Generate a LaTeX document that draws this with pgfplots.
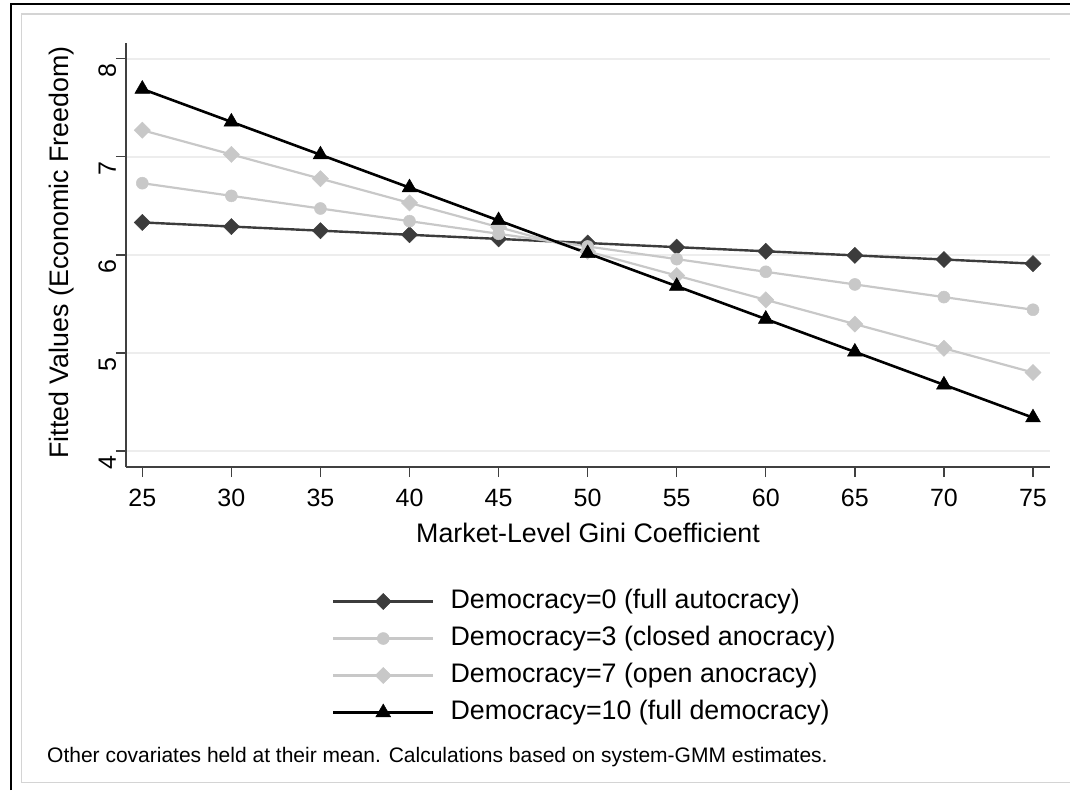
\documentclass[border=0pt]{standalone}
\usepackage{fontspec}
\setmainfont{Liberation Sans}
\usepackage{pgfplots}
\pgfplotsset{compat=1.18}
\definecolor{darkser}{HTML}{3C3C3C}
\definecolor{lightser}{HTML}{C8C8C8}
\definecolor{gridc}{HTML}{EDEDED}
\definecolor{axc}{HTML}{404040}
\definecolor{framec}{HTML}{D4D4D4}

\begin{document}
\begin{tikzpicture}[x=1pt,y=1pt]
\useasboundingbox (0,0) rectangle (1070,790);
% outer frame (black) and inner graph region (light gray)
\draw[line width=2pt] (11,0) -- (11,786) -- (1070,786);
\draw[framec, line width=1.5pt] (1070,776) -- (21.5,776) -- (21.5,7.5) -- (1070,7.5);

\begin{axis}[
  at={(126pt,323pt)}, anchor=south west,
  width=924pt, height=424pt, scale only axis,
  xmin=24.085, xmax=75.955, ymin=3.837, ymax=8.159,
  axis x line*=bottom, axis y line*=left,
  axis line style={-, draw=axc, line width=1.4pt},
  xtick={25,30,...,75}, ytick={4,5,6,7,8},
  tick align=outside, major tick length=10pt,
  tick style={axc, line width=1.4pt},
  ymajorgrids, grid style={gridc, line width=2pt},
  /pgf/number format/assume math mode=true,
  ticklabel style={font=\fontsize{25}{30}\selectfont, inner sep=0pt},
  xticklabel style={anchor=base, yshift=-29.5pt},
  yticklabel style={rotate=90, anchor=base, xshift=-12pt},
  xlabel={Market-Level Gini Coefficient},
  ylabel={Fitted Values (Economic Freedom)},
  label style={font=\fontsize{26.8}{30}\selectfont, inner sep=0pt},
  xlabel style={at={(axis description cs:0.5,-0.1769)}, anchor=base},
  ylabel style={at={(axis description cs:-0.0624,0.5059)}, anchor=base, rotate=0},
  legend image code/.code={\draw[mark repeat=2, mark phase=2, #1]
      plot coordinates {(0pt,0pt) (50pt,0pt) (100pt,0pt)};},
  legend cell align=left,
  legend style={draw=none, fill=none, inner sep=0pt, outer sep=0pt,
    at={(axis description cs:0.2229,-0.2866)}, anchor=north west,
    font=\fontsize{26.8}{30}\selectfont, row sep=11pt,
    nodes={inner sep=0pt, text height=19.5pt, text depth=6.5pt},
    /tikz/every odd column/.append style={column sep=16pt}},
]
\addplot[darkser, line width=2.4pt, mark=square*, mark size=5.7pt,
  mark options={rotate=45, solid, fill=darkser, line width=0.5pt}] coordinates {
  (25,6.330) (30,6.288) (35,6.246) (40,6.204) (45,6.162) (50,6.120)
  (55,6.078) (60,6.036) (65,5.994) (70,5.952) (75,5.910)};
\addlegendentry{Democracy=0 (full autocracy)}
\addplot[lightser, line width=2.2pt, mark=*, mark size=6pt,
  mark options={solid, fill=lightser, line width=0.5pt}] coordinates {
  (25,6.730) (30,6.601) (35,6.472) (40,6.343) (45,6.214) (50,6.085)
  (55,5.956) (60,5.827) (65,5.698) (70,5.569) (75,5.440)};
\addlegendentry{Democracy=3 (closed anocracy)}
\addplot[lightser, line width=2.2pt, mark=square*, mark size=5.7pt,
  mark options={rotate=45, solid, fill=lightser, line width=0.5pt}] coordinates {
  (25,7.270) (30,7.023) (35,6.776) (40,6.529) (45,6.282) (50,6.035)
  (55,5.788) (60,5.541) (65,5.294) (70,5.047) (75,4.800)};
\addlegendentry{Democracy=7 (open anocracy)}
\addplot[black, line width=2.6pt, mark=triangle*, mark size=8.5pt,
  mark options={solid, fill=black, line width=0.5pt}] coordinates {
  (25,7.690) (30,7.355) (35,7.020) (40,6.685) (45,6.350) (50,6.015)
  (55,5.680) (60,5.345) (65,5.010) (70,4.675) (75,4.340)};
\addlegendentry{Democracy=10 (full democracy)}
\end{axis}

\node[anchor=base west, inner sep=0pt, font=\fontsize{21}{25}\selectfont]
  at (47,28) {Other covariates held at their mean. Calculations based on system-GMM estimates.};
\end{tikzpicture}
\end{document}
